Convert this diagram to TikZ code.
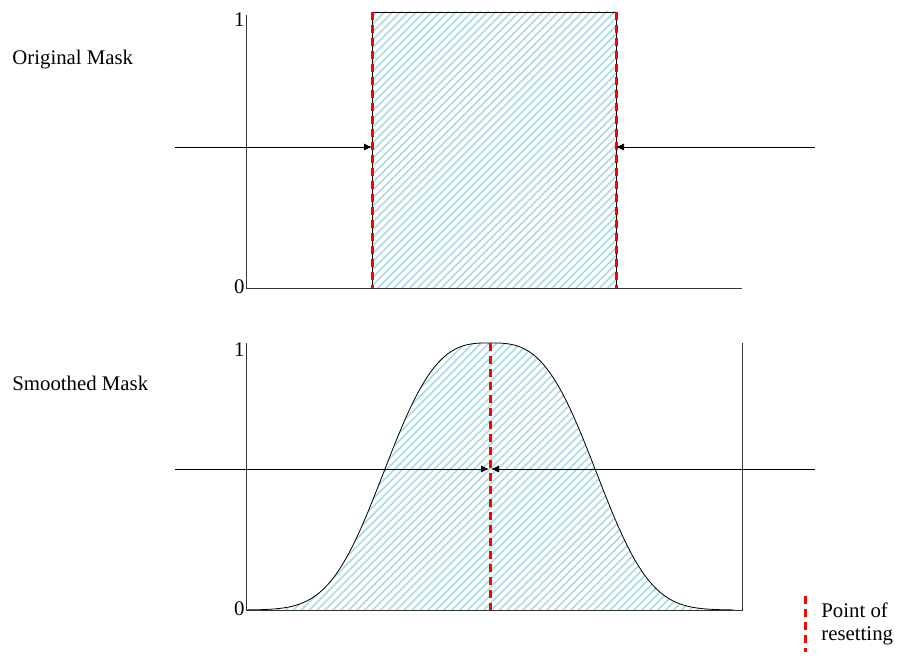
\documentclass[tikz,border=0pt]{standalone}
\usepackage{fontspec}
\setmainfont{Liberation Serif}
\usetikzlibrary{arrows.meta,patterns.meta}
\definecolor{hatch}{RGB}{172,220,226}
\tikzset{
  reset/.style={red, line width=1.5pt, dash pattern=on 4pt off 2.5pt},
  axis/.style={line width=0.5pt, black!80},
  push/.style={-{Latex[length=4pt,width=3.5pt]}, line width=0.4pt},
  masklabel/.style={anchor=west, inner sep=0pt},
  tick/.style={anchor=east, inner sep=1pt},
  hatched/.style={pattern={Lines[angle=45, distance=2.8pt, line width=0.85pt]}, pattern color=hatch},
}

\begin{document}
\begin{tikzpicture}[x=0.5pt,y=-0.5pt, font=\fontsize{10.4}{13}\selectfont]
\useasboundingbox (0,0) rectangle (908,658);

% original mask
\fill[hatched] (372,12) rectangle (616,288);
\draw (372,288) -- (372,12) -- (616,12) -- (616,288);
\draw[axis] (246,15) -- (246,288) -- (742,288);
\draw[reset] (372,12) -- (372,288);
\draw[reset] (616,12) -- (616,288);
\node[masklabel] (orig) at (12,60) {Original Mask};
\node[tick] (one1) at (247,20) {1};
\node[tick] (zero1) at (247,287) {0};
\coordinate (la) at (175,147);
\coordinate (lb) at (372,147);
\coordinate (ra) at (815,147);
\coordinate (rb) at (616,147);
\draw[push] (la) -- (lb);
\draw[push] (ra) -- (rb);

% smoothed mask
\fill[hatched]
  plot[domain=246:734, samples=120] (\x,{610-267*exp(-(abs(\x-490)/122)^3)}) -- cycle;
\draw plot[domain=246:734, samples=120] (\x,{610-267*exp(-(abs(\x-490)/122)^3)});
\draw[axis] (246,343) -- (246,610) -- (742,610) -- (742,343);
\draw[reset] (490,343) -- (490,610);
\node[masklabel] (smooth) at (12,383) {Smoothed Mask};
\node[tick] (one2) at (247,350) {1};
\node[tick] (zero2) at (247,609) {0};
\coordinate (sa) at (175,469);
\coordinate (sb) at (489,469);
\coordinate (sc) at (815,469);
\coordinate (sd) at (491,469);
\draw[push] (sa) -- (sb);
\draw[push] (sc) -- (sd);

% legend
\draw[reset] (805,596) -- (805,652);
\node[masklabel] (pt) at (821,610) {Point of};
\node[masklabel] (rs) at (821,636) {resetting};
\end{tikzpicture}
\end{document}
